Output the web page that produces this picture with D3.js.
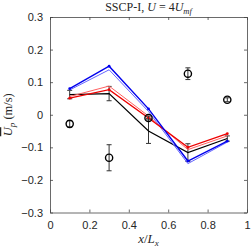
<!DOCTYPE html>
<html>
<head>
<meta charset="utf-8">
<script src="https://cdn.jsdelivr.net/npm/d3@7"></script>
<style>
  body { margin: 0; background: #fff; }
  .tick text { font-family: "Liberation Sans", Arial, sans-serif; font-size: 11px; fill: #262626; }
  .serif { font-family: "Liberation Serif", "Times New Roman", serif; fill: #262626; }
</style>
</head>
<body>
<script>
  // data
  var xPos = [0.1, 0.3, 0.5, 0.7, 0.9];
  var blueDark = [0.080, 0.149, 0.018, -0.142, -0.081];
  var blueLight = [0.076, 0.138, 0.010, -0.150, -0.084];
  var redDark = [0.051, 0.077, -0.010, -0.100, -0.058];
  var redLight = [0.056, 0.088, -0.004, -0.107, -0.065];
  var blackMean = [0.062, 0.065, -0.050, -0.116, -0.073];
  var blackErr = [0.013, 0.022, 0.038, 0.027, 0.008];
  var circMean = [-0.028, -0.132, -0.010, 0.126, 0.046];
  var circErr = [0.010, 0.040, 0.006, 0.018, 0.006];
  var xTicks = [0, 0.2, 0.4, 0.6, 0.8, 1];
  var yTicks = [-0.3, -0.2, -0.1, 0, 0.1, 0.2, 0.3];

  var width = 251, height = 249;
  var margin = { top: 17, left: 50, right: 4, bottom: 36.5 };

  var svg = d3.select("body").append("svg")
    .attr("width", width)
    .attr("height", height);

  var xScale = d3.scaleLinear().domain([0, 1]).range([margin.left, width - margin.right]);
  var yScale = d3.scaleLinear().domain([-0.3, 0.3]).range([height - margin.bottom, margin.top]);

  var axisCol = "#444";

  // box + ticks (inside, mirrored like matlab)
  svg.append("g")
    .attr("transform", `translate(0,${yScale(-0.3)})`)
    .call(d3.axisBottom(xScale).tickValues(xTicks).tickFormat(d3.format("")).tickSizeInner(-3).tickSizeOuter(0).tickPadding(9));
  svg.append("g")
    .attr("transform", `translate(0,${yScale(0.3)})`)
    .call(d3.axisTop(xScale).tickValues(xTicks).tickFormat("").tickSizeInner(-3).tickSizeOuter(0));
  svg.append("g")
    .attr("transform", `translate(${xScale(0)},0)`)
    .call(d3.axisLeft(yScale).tickValues(yTicks).tickFormat(d3.format("")).tickSizeInner(-3).tickSizeOuter(0).tickPadding(7));
  svg.append("g")
    .attr("transform", `translate(${xScale(1)},0)`)
    .call(d3.axisRight(yScale).tickValues(yTicks).tickFormat("").tickSizeInner(-3).tickSizeOuter(0));
  svg.selectAll(".domain, .tick line").attr("stroke", axisCol).attr("stroke-width", 0.8);

  var line = d3.line()
    .x(function(d) { return xScale(d[0]); })
    .y(function(d) { return yScale(d[1]); });

  function drawSeries(vals, col, w, dots) {
    var pts = xPos.map(function(x, i) { return [x, vals[i]]; });
    svg.append("path").datum(pts)
      .attr("fill", "none").attr("stroke", col).attr("stroke-width", w)
      .attr("d", line);
    if (dots) {
      svg.append("g").selectAll("circle").data(pts).enter().append("circle")
        .attr("cx", function(d) { return xScale(d[0]); })
        .attr("cy", function(d) { return yScale(d[1]); })
        .attr("r", 1.4).attr("fill", col);
    }
  }

  function errorBars(vals, errs, col) {
    var g = svg.append("g").attr("stroke", col).attr("stroke-width", 1);
    xPos.forEach(function(x, i) {
      var cx = xScale(x), y0 = yScale(vals[i] - errs[i]), y1 = yScale(vals[i] + errs[i]);
      g.append("line").attr("x1", cx).attr("x2", cx).attr("y1", y0).attr("y2", y1);
      g.append("line").attr("x1", cx - 2.5).attr("x2", cx + 2.5).attr("y1", y0).attr("y2", y0);
      g.append("line").attr("x1", cx - 2.5).attr("x2", cx + 2.5).attr("y1", y1).attr("y2", y1);
    });
  }

  // black mean line with errors
  errorBars(blackMean, blackErr, "#333");
  drawSeries(blackMean, "#000", 1.2, false);
  drawSeries(redLight, "#ff6060", 1, false);
  drawSeries(blueLight, "#6666ff", 1, false);
  drawSeries(redDark, "#ee0000", 1.4, true);
  drawSeries(blueDark, "#0000ee", 1.4, true);

  // circles with error bars
  errorBars(circMean, circErr, "#333");
  svg.append("g").selectAll("circle").data(circMean).enter().append("circle")
    .attr("cx", function(d, i) { return xScale(xPos[i]); })
    .attr("cy", function(d) { return yScale(d); })
    .attr("r", 3.6)
    .attr("fill", "none").attr("stroke", "#000").attr("stroke-width", 1.4);

  // title
  var title = svg.append("text").attr("class", "serif")
    .attr("x", (xScale(0) + xScale(1)) / 2).attr("y", 11)
    .attr("text-anchor", "middle").attr("font-size", 12);
  title.append("tspan").text("SSCP-I, ");
  title.append("tspan").attr("font-style", "italic").text("U");
  title.append("tspan").text(" = 4");
  title.append("tspan").attr("font-style", "italic").text("U");
  title.append("tspan").attr("font-style", "italic").attr("font-size", 8.5).attr("dy", 3).text("mf");

  // x label
  var xl = svg.append("text").attr("class", "serif")
    .attr("x", (xScale(0) + xScale(1)) / 2).attr("y", 243)
    .attr("text-anchor", "middle").attr("font-size", 13).attr("fill", "#555");
  xl.append("tspan").attr("font-style", "italic").text("x");
  xl.append("tspan").text("/");
  xl.append("tspan").attr("font-style", "italic").text("L");
  xl.append("tspan").attr("font-style", "italic").attr("font-size", 9).attr("dy", 3).text("x");

  // y label
  var yl = svg.append("text").attr("class", "serif")
    .attr("transform", `translate(12,${yScale(0)}) rotate(-90)`)
    .attr("text-anchor", "middle").attr("font-size", 12.5);
  yl.append("tspan").attr("font-style", "italic").attr("text-decoration", "overline").text("U");
  yl.append("tspan").attr("font-style", "italic").attr("font-size", 9).attr("dy", 3).text("p");
  yl.append("tspan").attr("dy", -3).text(" (m/s)");
</script>
</body>
</html>
